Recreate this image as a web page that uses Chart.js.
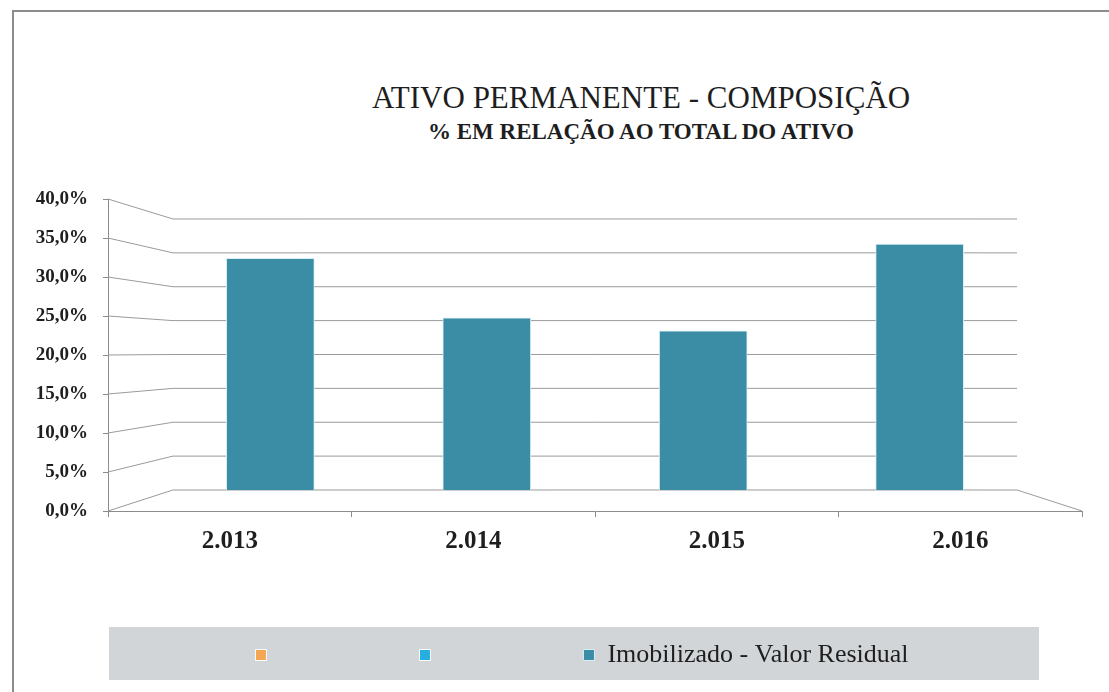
<!DOCTYPE html>
<html>
<head>
<meta charset="utf-8">
<script src="https://cdn.jsdelivr.net/npm/chart.js@4.4.1/dist/chart.umd.min.js"></script>
<style>
  body { margin: 0; width: 1109px; height: 692px; overflow: hidden; background: #fff; position: relative; }
  #moldura { position: absolute; left: 12px; top: 10px; width: 1200px; height: 800px; border: 2px solid #8c8c8c; }
  #grafico { position: absolute; left: 0; top: 0; }
  .titulo { position: absolute; left: 0; width: 1282px; text-align: center; font-family: "Liberation Serif", serif; color: #1e1e1e; }
  #t1 { top: 80px; font-size: 31px; line-height: 36px; }
  #t2 { top: 119px; font-size: 23px; line-height: 26px; font-weight: bold; }
</style>
</head>
<body>
<div id="moldura"></div>
<div class="titulo" id="t1">ATIVO PERMANENTE - COMPOSIÇÃO</div>
<div class="titulo" id="t2">% EM RELAÇÃO AO TOTAL DO ATIVO</div>
<canvas id="grafico" width="1109" height="692"></canvas>
<script>
const anos = ["2.013", "2.014", "2.015", "2.016"];
const imobilizado = [34.2, 25.4, 23.5, 36.3];
const series = ["", "", "Imobilizado - Valor Residual"];
const marcasY = [0, 5, 10, 15, 20, 25, 30, 35, 40];

// parede do fundo em "3D": linhas da frente (eixo de rótulos) até o fundo
const paredeFundo = {
  id: "paredeFundo",
  beforeDraw(chart) {
    const { ctx, chartArea, legend } = chart;
    ctx.save();
    ctx.fillStyle = "#d2d5d8";
    ctx.fillRect(chartArea.left + 1, legend.top - 5, 930, legend.height + 7);
    ctx.restore();
  },
  beforeDatasetsDraw(chart) {
    const { ctx, chartArea, scales } = chart;
    const xL = scales.xb.getPixelForValue(-0.45);
    const xR = scales.xb.getPixelForValue(3.45);
    ctx.save();
    ctx.strokeStyle = "#9a9a9a";
    ctx.lineWidth = 1;
    marcasY.forEach(v => {
      const yF = scales.yl.getPixelForValue(v);
      const yB = scales.y.getPixelForValue(v);
      ctx.beginPath();
      ctx.moveTo(chartArea.left, yF);
      ctx.lineTo(xL, yB);
      ctx.lineTo(xR, yB);
      ctx.stroke();
    });
    ctx.beginPath();
    ctx.moveTo(xR, scales.y.getPixelForValue(0));
    ctx.lineTo(chartArea.right, scales.yl.getPixelForValue(0));
    ctx.stroke();
    ctx.restore();
  }
};

const ctx = document.getElementById("grafico").getContext("2d");
const grafico = new Chart(ctx, {
  type: "bar",
  data: {
    labels: anos,
    datasets: [
      { label: series[0], data: [], backgroundColor: "#f4a650", borderColor: "#ffffff", borderWidth: 1 },
      { label: series[1], data: [], backgroundColor: "#27aee0", borderColor: "#ffffff", borderWidth: 1 },
      {
        label: series[2],
        data: imobilizado.map((v, i) => ({ x: i, y: v })),
        xAxisID: "xb",
        yAxisID: "y",
        grouped: false,
        backgroundColor: "#3a8da4",
        borderColor: "#d6eef4",
        borderWidth: 1,
        barThickness: 88,
        maxBarThickness: 88
      }
    ]
  },
  plugins: [paredeFundo],
  options: {
    responsive: false,
    animation: false,
    devicePixelRatio: 1,
    layout: { padding: { left: 30, right: 27, top: 199, bottom: 14 } },
    scales: {
      x: {
        type: "category",
        position: "bottom",
        offset: true,
        grid: { offset: true, drawOnChartArea: false, tickLength: 6, color: "#8c8c8c" },
        border: { color: "#8c8c8c" },
        ticks: { padding: 10, color: "#1e1e1e", font: { family: "Liberation Serif", size: 25, weight: "bold" } },
        afterFit(scale) { scale.height = 121; }
      },
      xb: { type: "linear", display: false, offset: false, min: -0.75, max: 3.75, grid: { offset: false } },
      y: { type: "linear", display: false, min: -3.1, max: 42.95 },
      yl: {
        type: "linear",
        position: "left",
        min: 0,
        max: 40,
        grid: { drawOnChartArea: false, tickLength: 5, color: "#8c8c8c" },
        border: { color: "#8c8c8c" },
        ticks: {
          stepSize: 5,
          padding: 15,
          color: "#1e1e1e",
          font: { family: "Liberation Serif", size: 19, weight: "bold" },
          callback: v => v.toFixed(1).replace(".", ",") + "%"
        },
        afterFit(scale) { scale.width = 78; }
      }
    },
    plugins: {
      tooltip: { enabled: false },
      legend: {
        position: "bottom",
        fullSize: false,
        labels: {
          boxWidth: 11,
          boxHeight: 11,
          padding: 10,
          color: "#1e1e1e",
          font: { family: "'Liberation Serif', serif", size: 26 },
          generateLabels(chart) {
            const itens = Chart.defaults.plugins.legend.labels.generateLabels(chart);
            itens.forEach(it => { it.text = it.text ? it.text + "    " : " ".repeat(20); });
            return itens;
          }
        }
      }
    }
  }
});
</script>
</body>
</html>
